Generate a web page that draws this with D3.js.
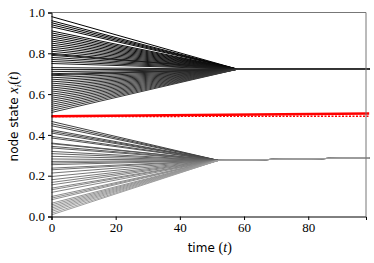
<!DOCTYPE html>
<html lang="en">
<head>
<meta charset="UTF-8">
<title>node state</title>
<style>
    body { margin: 0; background: #fff; }
</style>
</head>
<body>
<div id="wrapper"></div>
<script src="https://d3js.org/d3.v7.min.js"></script>
<script>
    // initial node states
    const upperStart = [0.98, 0.96, 0.95, 0.94, 0.93, 0.91, 0.90, 0.89, 0.88, 0.87, 0.86, 0.85, 0.84, 0.83,
        0.82, 0.81, 0.80, 0.795, 0.79, 0.78, 0.77, 0.76, 0.75, 0.73, 0.72, 0.71, 0.70, 0.695, 0.69, 0.68,
        0.67, 0.66, 0.65, 0.64, 0.63, 0.62, 0.61, 0.60, 0.59, 0.58, 0.57, 0.56, 0.55, 0.54, 0.53, 0.52, 0.51];
    const lowerStart = [0.466, 0.455, 0.445, 0.425, 0.417, 0.409, 0.393, 0.385, 0.36, 0.357, 0.344, 0.336,
        0.319, 0.308, 0.295, 0.282, 0.27, 0.262, 0.254, 0.237, 0.229, 0.213, 0.196, 0.18, 0.167, 0.155,
        0.139, 0.131, 0.118, 0.098, 0.09, 0.082, 0.065, 0.057, 0.049, 0.041, 0.033, 0.025, 0.016, 0.008];
    // where each cluster meets, and where it ends
    const upperMeet = [58, 0.722], upperEnd = [99, 0.722];
    const lowerMeet = [52, 0.275], lowerEnd = [99, 0.288];
    // stubborn (red) nodes
    const redSolid = [[0, 0.492], [99, 0.505]];
    const redDashed = [[0, 0.490], [99, 0.492]];
    const xTicks = [0, 20, 40, 60, 80];
    const yTicks = [0, 0.2, 0.4, 0.6, 0.8, 1.0];

    const width = 374, height = 263;
    const margin = { left: 51.5, right: 8, top: 12.5, bottom: 46.5 };

    const svg = d3.select('#wrapper').append('svg')
        .attr('width', width)
        .attr('height', height);

    const x = d3.scaleLinear().domain([0, 98]).range([margin.left, width - margin.right]);
    const y = d3.scaleLinear().domain([0, 1]).range([height - margin.bottom, margin.top]);

    const line = d3.line().x(d => x(d[0])).y(d => y(d[1]));
    // darker for higher starting state
    const shade = d3.scaleLinear().domain([0, 0.5, 1]).range(['#a0a0a0', '#3a3a3a', '#000000']);

    const plot = svg.append('g');

    lowerStart.forEach(v => {
        plot.append('path')
            .attr('d', line([[0, v], lowerMeet, lowerEnd]))
            .attr('fill', 'none')
            .attr('stroke', shade(v))
            .attr('stroke-width', 1);
    });

    upperStart.forEach(v => {
        plot.append('path')
            .attr('d', line([[0, v], upperMeet, upperEnd]))
            .attr('fill', 'none')
            .attr('stroke', shade(v))
            .attr('stroke-width', 1);
    });

    plot.append('path')
        .attr('d', line(redSolid))
        .attr('fill', 'none')
        .attr('stroke', '#ff0000')
        .attr('stroke-width', 2.5);

    plot.append('path')
        .attr('d', line(redDashed))
        .attr('fill', 'none')
        .attr('stroke', '#ff0000')
        .attr('stroke-width', 1.5)
        .style('stroke-dasharray', '2,1.5');

    // spines
    svg.append('line')
        .attr('x1', x(0)).attr('x2', width - margin.right)
        .attr('y1', margin.top).attr('y2', margin.top)
        .attr('stroke', '#777');
    svg.append('line')
        .attr('x1', width - margin.right).attr('x2', width - margin.right)
        .attr('y1', margin.top).attr('y2', y(0))
        .attr('stroke', '#777');

    const serif = '"Liberation Serif", "DejaVu Serif", serif';

    const xAxis = d3.axisBottom(x)
        .tickValues(xTicks)
        .tickFormat(d3.format('d'))
        .tickSizeOuter(0)
        .tickSize(3.5)
        .tickPadding(3);
    svg.append('g')
        .attr('transform', `translate(0,${y(0)})`)
        .call(xAxis)
        .call(g => g.select('.domain').attr('stroke', '#000'))
        .call(g => g.selectAll('text').style('font-family', serif).style('font-size', '13px'));

    const yAxis = d3.axisLeft(y)
        .tickValues(yTicks)
        .tickFormat(d3.format('.1f'))
        .tickSizeOuter(0)
        .tickSize(3.5)
        .tickPadding(3);
    svg.append('g')
        .attr('transform', `translate(${x(0)},0)`)
        .call(yAxis)
        .call(g => g.select('.domain').attr('stroke', '#000'))
        .call(g => g.selectAll('text').style('font-family', serif).style('font-size', '13px'));

    // axis labels
    const xl = svg.append('text')
        .attr('x', (x(0) + width - margin.right) / 2 + 1)
        .attr('y', 252)
        .attr('text-anchor', 'middle')
        .style('font-family', '"DejaVu Sans", sans-serif')
        .style('font-size', '12px');
    xl.append('tspan').text('time ');
    xl.append('tspan').style('font-family', serif).style('font-size', '14px').text('(');
    xl.append('tspan').style('font-family', serif).style('font-size', '14px').style('font-style', 'italic').text('t');
    xl.append('tspan').style('font-family', serif).style('font-size', '14px').text(')');

    const yl = svg.append('text')
        .attr('transform', `translate(18,${(margin.top + y(0)) / 2 + 2}) rotate(-90)`)
        .attr('text-anchor', 'middle')
        .style('font-family', '"DejaVu Sans", sans-serif')
        .style('font-size', '12px');
    yl.append('tspan').text('node state ');
    yl.append('tspan').style('font-family', serif).style('font-size', '14px').style('font-style', 'italic').text('x');
    yl.append('tspan').style('font-family', serif).style('font-style', 'italic')
        .style('font-size', '9px').attr('dy', 3).text('i');
    yl.append('tspan').style('font-family', serif).style('font-size', '14px').attr('dy', -3).text('(');
    yl.append('tspan').style('font-family', serif).style('font-size', '14px').style('font-style', 'italic').text('t');
    yl.append('tspan').style('font-family', serif).style('font-size', '14px').text(')');
</script>
</body>
</html>
